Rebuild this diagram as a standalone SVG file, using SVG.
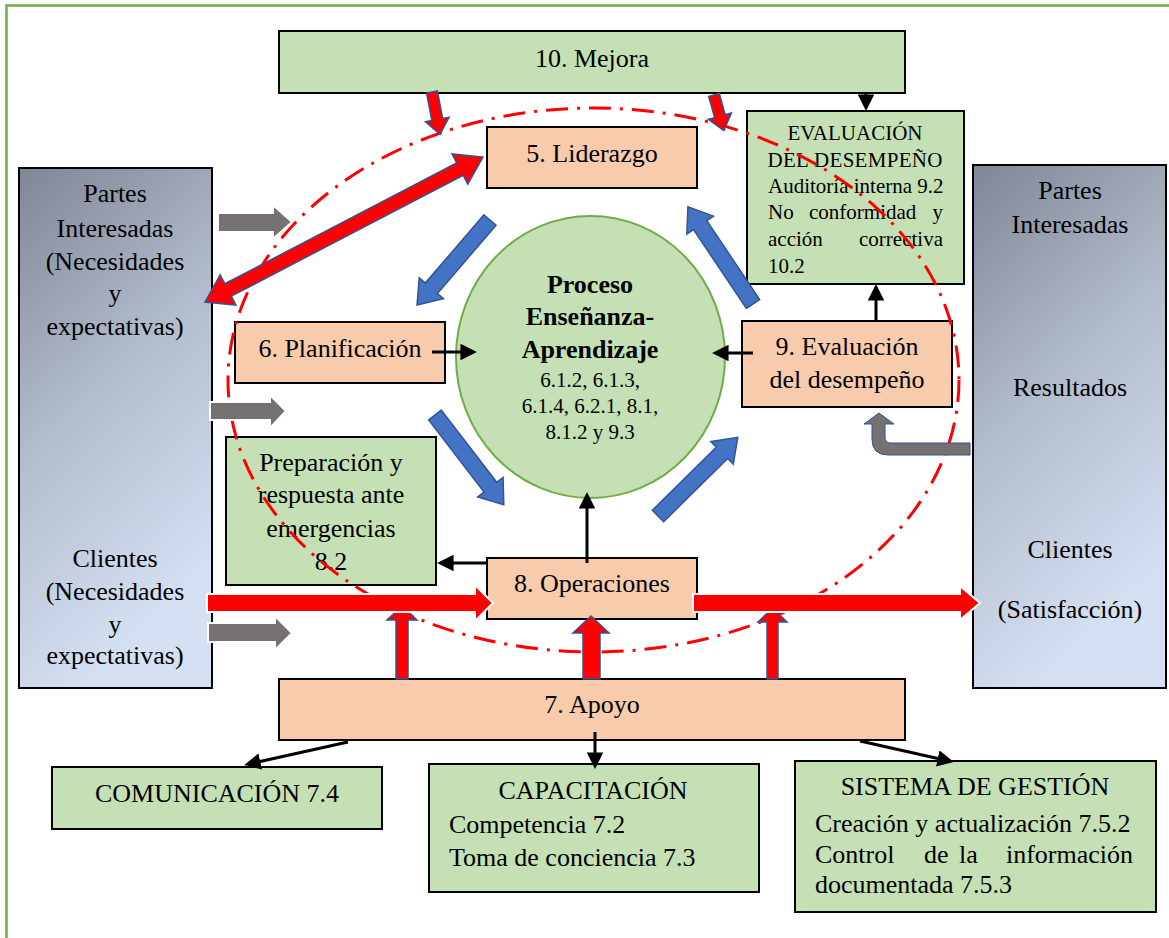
<svg xmlns="http://www.w3.org/2000/svg" width="1169" height="938" viewBox="0 0 1169 938">
<defs>
<linearGradient id="panelGrad" x1="0" y1="0" x2="0.35" y2="1">
<stop offset="0" stop-color="#7f8696"/>
<stop offset="0.5" stop-color="#b3bccc"/>
<stop offset="1" stop-color="#d5e0f2"/>
</linearGradient>
<marker id="ah" viewBox="0 0 10 10" refX="7" refY="5" markerWidth="5.5" markerHeight="5.5" orient="auto" markerUnits="strokeWidth">
<path d="M0,0 L10,5 L0,10 z" fill="#000"/>
</marker>
<style>
text{font-family:"Liberation Serif","Times New Roman",serif;fill:#000;}
.t25{font-size:26px;}
.t21{font-size:21px;}
.b26{font-size:26px;font-weight:bold;}
.mid{text-anchor:middle;}
.end{text-anchor:end;}
.green{fill:#c5e0b4;stroke:#000;stroke-width:2;}
.peach{fill:#f8cbad;stroke:#000;stroke-width:2;}
.panel{fill:url(#panelGrad);stroke:#000;stroke-width:2;}
.blk{stroke:#000;stroke-width:3;fill:none;marker-end:url(#ah);}
.blue{fill:#4472c4;stroke:#2f5597;stroke-width:1.5;}
.redb{fill:#ff0000;stroke:#2f5597;stroke-width:1.5;}
.redw{fill:#ff0000;stroke:#fff;stroke-width:2;}
.gray{fill:#767171;stroke:#fff;stroke-width:2;}
</style>
</defs>
<rect x="0" y="0" width="1169" height="938" fill="#fff"/>
<rect x="6.5" y="5.5" width="1175" height="945" fill="none" stroke="#70ad47" stroke-width="2.5"/>

<g id="panel-left">
<rect class="panel" x="19" y="168" width="193" height="520"/>
<text class="t25 mid" x="115" y="202">Partes</text>
<text class="t25 mid" x="115" y="237">Interesadas</text>
<text class="t25 mid" x="115" y="270">(Necesidades</text>
<text class="t25 mid" x="115" y="302">y</text>
<text class="t25 mid" x="115" y="335">expectativas)</text>
<text class="t25 mid" x="115" y="567">Clientes</text>
<text class="t25 mid" x="115" y="600">(Necesidades</text>
<text class="t25 mid" x="115" y="633">y</text>
<text class="t25 mid" x="115" y="664">expectativas)</text>
</g>

<g id="panel-right">
<rect class="panel" x="973" y="165" width="193" height="523"/>
<text class="t25 mid" x="1070" y="199">Partes</text>
<text class="t25 mid" x="1070" y="233">Interesadas</text>
<text class="t25 mid" x="1070" y="396">Resultados</text>
<text class="t25 mid" x="1070" y="558">Clientes</text>
<text class="t25 mid" x="1070" y="618">(Satisfacción)</text>
</g>

<g id="mejora">
<rect class="green" x="279" y="31" width="626" height="62"/>
<text class="t25 mid" x="592" y="67">10. Mejora</text>
</g>

<g id="liderazgo">
<rect class="peach" x="487" y="127" width="210" height="61"/>
<text class="t25 mid" x="592" y="162">5. Liderazgo</text>
</g>

<g id="evaluacion-desempeno">
<rect class="green" x="747" y="111" width="217" height="173"/>
<text class="t21 mid" x="855" y="140">EVALUACIÓN</text>
<text class="t21 mid" x="855" y="167" textLength="175">DEL DESEMPEÑO</text>
<text class="t21" x="768" y="193">Auditoría interna 9.2</text>
<text class="t21" x="768" y="219">No</text>
<text class="t21" x="809" y="219">conformidad</text>
<text class="t21 end" x="943" y="219">y</text>
<text class="t21" x="768" y="246">acción</text>
<text class="t21 end" x="943" y="246">correctiva</text>
<text class="t21" x="768" y="273">10.2</text>
</g>

<g id="planificacion">
<rect class="peach" x="235" y="322" width="210" height="61"/>
<text class="t25 mid" x="340" y="357">6. Planificación</text>
</g>

<g id="evaluacion">
<rect class="peach" x="742" y="321" width="210" height="86"/>
<text class="t25 mid" x="847" y="355">9. Evaluación</text>
<text class="t25 mid" x="847" y="388">del desempeño</text>
</g>

<g id="proceso">
<ellipse cx="590.5" cy="357" rx="134.5" ry="141" fill="#c5e0b4" stroke="#70ad47" stroke-width="2"/>
<text class="b26 mid" x="590" y="293">Proceso</text>
<text class="b26 mid" x="590" y="325">Enseñanza-</text>
<text class="b26 mid" x="590" y="358">Aprendizaje</text>
<text class="t21 mid" x="590" y="387">6.1.2, 6.1.3,</text>
<text class="t21 mid" x="590" y="413">6.1.4, 6.2.1, 8.1,</text>
<text class="t21 mid" x="590" y="439">8.1.2 y 9.3</text>
</g>

<g id="preparacion">
<rect class="green" x="226" y="437" width="210" height="148"/>
<text class="t25 mid" x="331" y="471">Preparación y</text>
<text class="t25 mid" x="331" y="503">respuesta ante</text>
<text class="t25 mid" x="331" y="537">emergencias</text>
<text class="t25 mid" x="331" y="570">8.2</text>
</g>

<g id="operaciones">
<rect class="peach" x="487" y="558" width="210" height="61"/>
<text class="t25 mid" x="592" y="592">8. Operaciones</text>
</g>

<g id="apoyo">
<rect class="peach" x="279" y="679" width="626" height="61"/>
<text class="t25 mid" x="592" y="713">7. Apoyo</text>
</g>

<g id="comunicacion">
<rect class="green" x="52" y="767" width="330" height="62"/>
<text class="t25 mid" x="217" y="802">COMUNICACIÓN 7.4</text>
</g>

<g id="capacitacion">
<rect class="green" x="429" y="764" width="330" height="128"/>
<text class="t25 mid" x="593" y="799">CAPACITACIÓN</text>
<text class="t25" x="449" y="833">Competencia 7.2</text>
<text class="t25" x="449" y="866">Toma de conciencia 7.3</text>
</g>

<g id="sistema-gestion">
<rect class="green" x="795" y="761" width="361" height="151"/>
<text class="t25 mid" x="975" y="795">SISTEMA DE GESTIÓN</text>
<text class="t25" x="815" y="832">Creación y actualización 7.5.2</text>
<text class="t25" x="815" y="863">Control</text>
<text class="t25" x="924" y="863">de</text>
<text class="t25" x="959" y="863">la</text>
<text class="t25 end" x="1133" y="863">información</text>
<text class="t25" x="815" y="893">documentada 7.5.3</text>
</g>

<g id="ciclo">
<ellipse cx="593.5" cy="380" rx="365.5" ry="272" fill="none" stroke="#ff0000" stroke-width="3" stroke-dasharray="22 9 3 9"/>
</g>

<g id="connectors">
<line class="blk" x1="866" y1="92" x2="866" y2="106"/>
<line class="blk" x1="876" y1="321" x2="876" y2="289"/>
<line class="blk" x1="432" y1="352" x2="472" y2="352"/>
<line class="blk" x1="753" y1="353" x2="717" y2="353"/>
<line class="blk" x1="587" y1="563" x2="587" y2="497"/>
<line class="blk" x1="487" y1="563" x2="442" y2="563"/>
<line class="blk" x1="348" y1="742" x2="249" y2="764"/>
<line class="blk" x1="595" y1="732" x2="595" y2="764"/>
<line class="blk" x1="860" y1="741" x2="949" y2="761"/>

<polygon class="blue" transform="translate(490,220) rotate(130.65)" points="0,-8 90,-8 90,-16 112,0 90,16 90,8 0,8"/>
<polygon class="blue" transform="translate(435,415) rotate(52.5)" points="0,-8 91,-8 91,-16 113,0 91,16 91,8 0,8"/>
<polygon class="blue" transform="translate(658,516) rotate(-44.6)" points="0,-8 90,-8 90,-16 112,0 90,16 90,8 0,8"/>
<polygon class="blue" transform="translate(753,304) rotate(-123.8)" points="0,-8 95,-8 95,-16 117,0 95,16 95,8 0,8"/>

<polygon class="redb" transform="translate(205,302) rotate(-27.54)" points="0,0 26,-17 26,-7 287.5,-7 287.5,-17 313.5,0 287.5,17 287.5,7 26,7 26,17"/>

<polygon class="redb" transform="translate(432,92) rotate(79.2)" points="0,-5.5 28,-5.5 28,-12 43,0 28,12 28,5.5 0,5.5"/>
<polygon class="redb" transform="translate(714,95) rotate(74.5)" points="0,-5.5 22,-5.5 22,-12 37,0 22,12 22,5.5 0,5.5"/>

<polygon class="redb" points="396,679 396,620 387,620 402,606 417,620 408,620 408,679"/>
<polygon class="redb" points="583,679 583,633 573,633 591,616 609,633 600,633 600,679"/>
<polygon class="redb" points="767,679 767,622 758,622 772.5,608 787,622 778,622 778,679"/>

<polygon class="redw" points="207,594 475,594 475,585 493,603 475,621 475,612 207,612"/>
<polygon class="redw" points="693,594 960,594 960,586 980,603 960,620 960,612 693,612"/>

<polygon class="gray" points="218,213 273,213 273,205 292,222 273,239 273,232 218,232"/>
<polygon class="gray" points="210,402 270,402 270,395 286,411 270,428 270,420 210,420"/>
<polygon class="gray" points="208,623 275,623 275,616 292,633 275,650 275,642 208,642"/>
<path d="M879,413 L894,424 L885,424 L885,437 Q885,443 891,443 L970,443 L970,455 L888,455 Q872,455 872,439 L872,424 L864,424 Z" fill="#767171" stroke="#2f5597" stroke-width="1"/>
</g>
</svg>
